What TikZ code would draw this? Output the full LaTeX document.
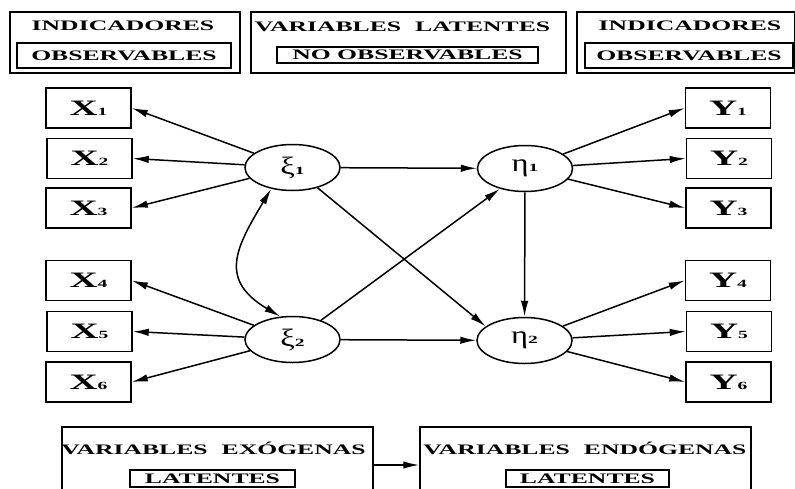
\documentclass[tikz,border=0pt]{standalone}
\usepackage{fontspec}
\usetikzlibrary{arrows.meta,shapes.geometric}
% wide serif faces for the labels
\newfontfamily\capsfont{Liberation Serif}[FakeStretch=1.77]
\newfontfamily\greekfont{Liberation Serif}[FakeStretch=1.3]
\newcommand{\capstext}[1]{{\capsfont\bfseries\fontsize{14.5}{15}\selectfont #1}}
\newcommand{\wsp}{\hspace{14pt}}
\newcommand{\obs}[2]{{\capsfont\bfseries\fontsize{22}{22}\selectfont #1\fontsize{11}{11}\selectfont #2}}
\newcommand{\lat}[2]{{\greekfont\fontsize{25}{25}\selectfont #1\capsfont\bfseries\fontsize{11}{11}\selectfont #2}}
\begin{document}
\begin{tikzpicture}[x=1pt,y=-1pt,line width=1.5pt,
  frame/.style={draw,rectangle,inner sep=0pt},
  obsbox/.style={draw,rectangle,inner sep=0pt,minimum width=85pt,minimum height=40pt},
  latvar/.style={draw,ellipse,inner sep=0pt,minimum width=95pt,minimum height=46pt},
  arr/.style={-{Latex[length=16pt,width=7.5pt]}},
  darr/.style={{Latex[length=16pt,width=7.5pt]}-{Latex[length=16pt,width=7.5pt]}}]
\useasboundingbox (0,0) rectangle (795,488);

% legend boxes along the top
\node[frame,minimum width=230pt,minimum height=61pt] (f1) at (125,42.5) {};
\node (h1) at (123,26) {\capstext{INDICADORES}};
\node[frame,minimum width=214pt,minimum height=25pt] (i1) at (124,55.5) {\capstext{OBSERVABLES}};

\node[frame,minimum width=315pt,minimum height=61pt] (f2) at (408.5,42.5) {};
\node (h2) at (402.5,27) {\capstext{VARIABLES\wsp LATENTES}};
\node[frame,minimum width=261pt,minimum height=16pt] (i2) at (407.5,55) {\capstext{NO OBSERVABLES}};

\node[frame,minimum width=218pt,minimum height=61pt] (f3) at (686,42.5) {};
\node (h3) at (690,26) {\capstext{INDICADORES}};
\node[frame,minimum width=208pt,minimum height=25pt] (i3) at (689,55.5) {\capstext{OBSERVABLES}};

% observed indicators
\node[obsbox] (X1) at (88.5,108) {\obs{X}{1}};
\node[obsbox] (X2) at (89.5,158.5) {\obs{X}{2}};
\node[obsbox] (X3) at (88.5,208) {\obs{X}{3}};
\node[obsbox] (X4) at (88.5,280.5) {\obs{X}{4}};
\node[obsbox] (X5) at (89.5,331.5) {\obs{X}{5}};
\node[obsbox] (X6) at (88.5,382) {\obs{X}{6}};
\node[obsbox] (Y1) at (728,108) {\obs{Y}{1}};
\node[obsbox] (Y2) at (729,158.5) {\obs{Y}{2}};
\node[obsbox] (Y3) at (728.5,208) {\obs{Y}{3}};
\node[obsbox] (Y4) at (728,280.5) {\obs{Y}{4}};
\node[obsbox] (Y5) at (729,331.5) {\obs{Y}{5}};
\node[obsbox] (Y6) at (728.5,382) {\obs{Y}{6}};

% latent variables
\node[latvar] (xi1) at (292.5,167.5) {\lat{ξ}{1}};
\node[latvar] (xi2) at (292.5,339.5) {\lat{ξ}{2}};
\node[latvar] (eta1) at (525,168.5) {\lat{η}{1}};
\node[latvar] (eta2) at (524.5,340.5) {\lat{η}{2}};

% measurement model
\draw[arr] (xi1) -- (X1.east);
\draw[arr] (xi1) -- (X2.east);
\draw[arr] (xi1) -- (X3.east);
\draw[arr] (xi2) -- (X4.east);
\draw[arr] (xi2) -- (X5.east);
\draw[arr] (xi2) -- (X6.east);
\draw[arr] (eta1) -- (Y1.west);
\draw[arr] (eta1) -- (Y2.west);
\draw[arr] (eta1) -- (Y3.west);
\draw[arr] (eta2) -- (Y4.west);
\draw[arr] (eta2) -- (Y5.west);
\draw[arr] (eta2) -- (Y6.west);

% structural model
\draw[arr] (xi1) -- (eta1);
\draw[arr] (xi2) -- (eta2);
\draw[arr] (xi1.-39) -- (eta2.160);
\draw[arr] (xi2.34) -- (eta1.-141);
\draw[arr] (eta1) -- (eta2);
\draw[darr] (xi1.-135) .. controls (235,249) and (219,280) .. (xi2.118);

% exogenous / endogenous legend
\node[frame,minimum width=311pt,minimum height=76pt] (bl) at (217.5,465) {};
\node (hbl) at (213.5,448) {\capstext{VARIABLES\wsp EXÓGENAS}};
\node[frame,minimum width=165pt,minimum height=17pt] (ibl) at (212.5,478.5) {\capstext{LATENTES}};
\node[frame,minimum width=331pt,minimum height=76pt] (br) at (585.5,465) {};
\node (hbr) at (585,448) {\capstext{VARIABLES\wsp ENDÓGENAS}};
\node[frame,minimum width=163pt,minimum height=17pt] (ibr) at (587.5,478.5) {\capstext{LATENTES}};
\draw[arr] (bl) -- (br);
\end{tikzpicture}
\end{document}
